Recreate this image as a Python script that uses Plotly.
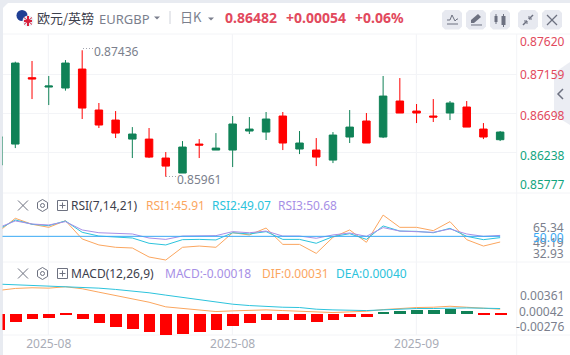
import plotly.graph_objects as go

W, H = 570, 355

# ---- data ----
sessions = list(range(0, 31))
opens = [0.86097, 0.86342, 0.87116, 0.87007, 0.86996, 0.87217, 0.86739, 0.86622, 0.86400, 0.86400, 0.86179,
         0.86004, 0.86342, 0.86272, 0.86272, 0.86494, 0.86482, 0.86669, 0.86284, 0.86272, 0.86155,
         0.86424, 0.86611, 0.86424, 0.86844, 0.86727, 0.86669, 0.86704, 0.86774, 0.86517, 0.86393]
highs = [0.86428, 0.87303, 0.87311, 0.87136, 0.87322, 0.87436, 0.86821, 0.86727, 0.86540, 0.86529, 0.86249,
         0.86377, 0.86400, 0.86470, 0.86669, 0.86657, 0.86716, 0.86716, 0.86494, 0.86412, 0.86482,
         0.86739, 0.86704, 0.87136, 0.87112, 0.86809, 0.86867, 0.86844, 0.86844, 0.86587, 0.86494]
lows = [0.86097, 0.86295, 0.86867, 0.86797, 0.86965, 0.86634, 0.86529, 0.86412, 0.86179, 0.86179, 0.85961,
        0.86004, 0.86179, 0.86272, 0.86074, 0.86459, 0.86389, 0.86272, 0.86225, 0.86085, 0.86120,
        0.86354, 0.86354, 0.86412, 0.86704, 0.86587, 0.86599, 0.86622, 0.86540, 0.86400, 0.86377]
closes = [0.86428, 0.87287, 0.87101, 0.87019, 0.87287, 0.86762, 0.86564, 0.86470, 0.86459, 0.86190, 0.86085,
          0.86307, 0.86330, 0.86295, 0.86576, 0.86517, 0.86634, 0.86354, 0.86354, 0.86190, 0.86447,
          0.86540, 0.86354, 0.86902, 0.86704, 0.86704, 0.86657, 0.86821, 0.86540, 0.86424, 0.86482]

rsi1 = [53.4, 63.0, 58.7, 56.5, 61.3, 48.1, 43.8, 42.1, 41.6, 35.1, 32.93, 42.1, 43.0, 42.1, 52.6, 51.0,
        56.0, 44.2, 44.2, 37.7, 49.3, 54.6, 45.7, 65.34, 56.5, 56.5, 54.1, 60.6, 47.6, 43.0, 45.91]
rsi2 = [55.0, 61.8, 58.7, 57.7, 61.1, 52.9, 50.2, 49.3, 48.8, 45.0, 43.8, 47.6, 47.8, 47.4, 52.6, 51.7,
        53.4, 47.8, 47.8, 45.0, 49.8, 51.9, 47.8, 57.5, 53.8, 53.6, 52.6, 55.8, 50.0, 47.6, 49.07]
rsi3 = [56.3, 61.1, 58.9, 58.2, 60.6, 54.6, 52.6, 51.9, 51.7, 48.8, 47.8, 50.2, 50.5, 50.5, 53.4, 52.6,
        53.8, 50.2, 50.2, 48.6, 51.0, 52.4, 50.0, 56.3, 53.8, 53.6, 52.9, 55.3, 51.7, 50.0, 50.68]
rsi_mid = [50.0] * 31

dea = [0.00361, 0.00352, 0.00344, 0.00335, 0.00330, 0.00322, 0.00308, 0.00291, 0.00273, 0.00247, 0.00216,
       0.00185, 0.00150, 0.00119, 0.00097, 0.00079, 0.00066, 0.00057, 0.00053, 0.00031, 0.00022,
       0.00018, 0.00013, 0.00022, 0.00035, 0.00040, 0.00040, 0.00048, 0.00048, 0.00044, 0.00040]
dif = [0.00278, 0.00304, 0.00313, 0.00308, 0.00326, 0.00300, 0.00255, 0.00211, 0.00172, 0.00123, 0.00062,
       0.00040, 0.00022, 0.00000, 0.00009, 0.00013, 0.00022, 0.00013, 0.00004, -0.00013, -0.00013,
       -0.00004, 0.00004, 0.00026, 0.00044, 0.00053, 0.00057, 0.00070, 0.00057, 0.00044, 0.00031]
macd = [-0.00211, -0.00106, -0.00066, -0.00053, -0.00009, -0.00066, -0.00119, -0.00172, -0.00198, -0.00238,
        -0.00276, -0.00264, -0.00238, -0.00211, -0.00159, -0.00119, -0.00079, -0.00079, -0.00079, -0.00106,
        -0.00079, -0.00040, -0.00040, 0.00026, 0.00040, 0.00048, 0.00053, 0.00062, 0.00040, -0.00009, -0.00018]

x_ticks = [3, 14, 25]
x_tick_labels = ["2025-08", "2025-08", "2025-09"]
price_ticks = [0.87620, 0.87159, 0.86698, 0.86238, 0.85777]

# ---- style ----
UP, DOWN = "#108257", "#ff0000"
RED_TXT, GREEN_TXT = "#e2495d", "#12a57f"
ORANGE, CYAN, PURPLE, BLUE = "#fba65f", "#2cc3dc", "#a78fe6", "#39a9f4"
GRID = "#f3f4f7"
GREY = "#7b7f8d"
ICON = "#6d7180"
FONT = "Noto Sans, Noto Sans CJK SC, sans-serif"


def px(x):
    return x / W


def py(y):
    return (H - y) / H


fig = go.Figure()
fig.add_trace(go.Candlestick(
    x=sessions, open=opens, high=highs, low=lows, close=closes, xaxis="x", yaxis="y",
    increasing=dict(line=dict(color=UP, width=1), fillcolor=UP),
    decreasing=dict(line=dict(color=DOWN, width=1), fillcolor=DOWN),
    whiskerwidth=0, showlegend=False))

for vals, col in ((rsi1, ORANGE), (rsi2, CYAN), (rsi3, PURPLE), (rsi_mid, BLUE)):
    fig.add_trace(go.Scatter(x=sessions, y=vals, mode="lines", xaxis="x2", yaxis="y2",
                             line=dict(color=col, width=1), showlegend=False))

fig.add_trace(go.Bar(x=sessions, y=macd, xaxis="x3", yaxis="y3", width=0.7,
                     marker=dict(color=[UP if v > 0 else DOWN for v in macd], line=dict(width=0)),
                     showlegend=False))
fig.add_trace(go.Scatter(x=sessions, y=dif, mode="lines", xaxis="x3", yaxis="y4",
                         line=dict(color=ORANGE, width=1), showlegend=False))
fig.add_trace(go.Scatter(x=sessions, y=dea, mode="lines", xaxis="x3", yaxis="y4",
                         line=dict(color=CYAN, width=1), showlegend=False))

xdom = [px(2.5), px(516.7)]
xrange_ = [0.2344, 30.99]
xcommon = dict(domain=xdom, range=xrange_, tickmode="array", tickvals=x_ticks, showgrid=True,
               gridcolor=GRID, gridwidth=1, zeroline=False, showline=False, ticks="")
fig.update_layout(
    width=W, height=H, margin=dict(l=0, r=0, t=0, b=0, autoexpand=False),
    paper_bgcolor="white", plot_bgcolor="white", boxgap=0.36, bargap=0,
    font=dict(family=FONT, size=12, color=GREY),
    xaxis=dict(anchor="y", showticklabels=False, rangeslider=dict(visible=False), **xcommon),
    xaxis2=dict(anchor="y2", showticklabels=False, **xcommon),
    xaxis3=dict(anchor="y3", ticktext=x_tick_labels, showticklabels=True,
                tickfont=dict(size=12, color="#a9acb6", family=FONT), ticklabelstandoff=0, **xcommon),
    yaxis=dict(domain=[py(192.5), py(34.5)], range=[price_ticks[-1], price_ticks[0]],
               tickmode="array", tickvals=price_ticks[1:-1], showticklabels=False,
               showgrid=True, gridcolor=GRID, zeroline=False, ticks=""),
    yaxis2=dict(domain=[py(262), py(193)], range=[31.5, 81.25], showticklabels=False,
                showgrid=False, zeroline=False, ticks=""),
    yaxis3=dict(domain=[py(335), py(262)], range=[-0.002775, 0.00683], showticklabels=False,
                showgrid=False, zeroline=False, ticks=""),
    yaxis4=dict(domain=[py(335), py(262)], range=[-0.003084, 0.00652], overlaying="y3",
                showticklabels=False, showgrid=False, zeroline=False, ticks=""),
)

annotations = []


def text(x, y, s, color=GREY, size=12, anchor="left", weight=None, family=FONT):
    if weight:
        s = f"<b>{s}</b>"
    annotations.append(dict(xref="paper", yref="paper", x=px(x), y=py(y), text=s, showarrow=False,
                            xanchor=anchor, yanchor="middle", borderpad=0, borderwidth=0,
                            font=dict(size=size, color=color, family=family)))


# header
text(37, 17, "欧元/英镑", "#3d404d", 13, family="Noto Sans CJK SC")
text(99, 19, "EURGBP", GREY, 13)
text(180, 16, "日K", GREY, 13, family="Noto Sans CJK SC")
text(225, 17, "0.86482", RED_TXT, 14, weight=True)
text(286, 17, "+0.00054", RED_TXT, 14, weight=True)
text(355, 17, "+0.06%", RED_TXT, 14, weight=True)
# price axis labels
label_rows = [42, 74.5, 115, 155.5, 184]
label_cols = [RED_TXT, RED_TXT, RED_TXT, GREEN_TXT, GREEN_TXT]
for v, row, col in zip(price_ticks, label_rows, label_cols):
    text(565, row, f"{v:.5f}", col, 12, anchor="right")
# extremes
text(94, 51.5, f"{max(highs):.5f}", GREY, 12)
text(177, 179.5, f"{min(lows):.5f}", GREY, 12)
# indicator legends
text(71, 205.5, "RSI(7,14,21)", "#3d404d", 12)
text(146, 205.5, f"RSI1:{rsi1[-1]:.2f}", ORANGE, 12)
text(212, 205.5, f"RSI2:{rsi2[-1]:.2f}", CYAN, 12)
text(278, 205.5, f"RSI3:{rsi3[-1]:.2f}", PURPLE, 12)
text(71, 273.5, "MACD(12,26,9)", "#3d404d", 12)
text(165, 273.5, f"MACD:{macd[-1]:.5f}", PURPLE, 12)
text(262, 273.5, f"DIF:{dif[-1]:.5f}", ORANGE, 12)
text(336, 273.5, f"DEA:{dea[-1]:.5f}", CYAN, 12)
# indicator axis labels
text(564, 227, f"{max(rsi1):.2f}", GREY, 12, anchor="right")
text(564, 242, "49.19", GREY, 12, anchor="right")
text(564, 254, f"{min(rsi1):.2f}", GREY, 12, anchor="right")
text(564, 237, "50.00", BLUE, 12, anchor="right")
text(564, 295.5, f"{max(dea):.5f}", GREY, 12, anchor="right")
text(564, 311, "0.00042", GREY, 12, anchor="right")
text(564, 326, f"{min(macd):.5f}", GREY, 12, anchor="right")
fig.update_layout(annotations=annotations)

shapes = []


def line(x0, y0, x1, y1, color=GRID, width=1, layer="below"):
    shapes.append(dict(type="line", xref="paper", yref="paper", x0=px(x0), y0=py(y0), x1=px(x1), y1=py(y1),
                       line=dict(color=color, width=width), layer=layer))


def path(points, fill=None, color=None, width=1, closed=False, layer="above"):
    d = "M" + " L".join(f"{px(a):.5f},{py(b):.5f}" for a, b in points) + (" Z" if closed else "")
    shapes.append(dict(type="path", xref="paper", yref="paper", path=d, fillcolor=fill or "rgba(0,0,0,0)",
                       line=dict(color=color or "rgba(0,0,0,0)", width=width), layer=layer))


def circle(cx, cy, r, fill, layer="above"):
    shapes.append(dict(type="circle", xref="paper", yref="paper", x0=px(cx - r), x1=px(cx + r),
                       y0=py(cy + r), y1=py(cy - r), fillcolor=fill, line=dict(width=0), layer=layer))


def round_rect(x0, y0, x1, y1, r, fill):
    pts = [(x0 + r, y0), (x1 - r, y0), (x1, y0 + r), (x1, y1 - r), (x1 - r, y1), (x0 + r, y1), (x0, y1 - r), (x0, y0 + r)]
    path(pts, fill=fill, closed=True, layer="below")


# frame and pane separators
path([(0, 0), (570, 0), (570, 3), (8, 3), (3, 8), (3, 355), (0, 355)], fill="#e8ebf1", closed=True, layer="below")
for yy in (34, 193, 262, 335):
    line(3, yy, 570, yy)
line(516.7, 34, 516.7, 355)
for xx in (48.3, 232.3, 416.3):
    line(xx, 34, xx, 335)

# flags
circle(22, 15.5, 5.5, "#1f3f94")
circle(28, 21, 5.5, "#e8edf5")
path([(24, 21), (32, 21)], color="#d8213b", width=2)
path([(28, 16), (28, 26)], color="#d8213b", width=2)
path([(24, 17.5), (32, 24.5)], color="#d8213b", width=1)
path([(32, 17.5), (24, 24.5)], color="#d8213b", width=1)

# carets
for xc, yc in ((157, 18), (211, 19)):
    path([(xc - 3, yc - 1.5), (xc + 3, yc - 1.5), (xc, yc + 1.5)], fill="#7b7f8d", closed=True)
line(170, 11, 170, 24, "#cfd2da", 1, "above")

# toolbar
for x0 in (442, 466, 490, 518, 542):
    round_rect(x0, 10, x0 + 20, 29.5, 3, "#e7e9f0")
path([(447, 20), (450, 20), (452, 15), (455, 21), (457, 19), (458, 19)], color=ICON, width=1)
path([(447, 24), (458, 24)], color=ICON, width=1)
path([(471, 23), (471, 20), (478, 14), (481, 17), (474, 23)], fill=ICON, closed=True)
path([(471, 25), (482, 25)], color=ICON, width=1)
path([(496, 16), (496, 22)], fill=ICON, color=ICON, width=3)
path([(503.5, 16), (503.5, 25)], fill=ICON, color=ICON, width=4)
path([(496, 14), (496, 24)], color=ICON, width=1)
path([(503.5, 14), (503.5, 27)], color=ICON, width=1)
path([(523, 25), (527, 21)], color=ICON, width=1.5)
path([(527, 24), (527, 21), (524, 21)], color=ICON, width=1)
path([(533, 15), (529, 19)], color=ICON, width=1.5)
path([(529, 16), (529, 19), (532, 19)], color=ICON, width=1)
path([(547, 15), (557, 25)], color=ICON, width=1.2)
path([(557, 15), (547, 25)], color=ICON, width=1.2)

# side tab
path([(570, 62), (554, 73), (554, 115), (570, 125)], fill="rgba(230,232,240,0.8)", closed=True)
path([(563, 89), (558, 94), (563, 99)], color=ICON, width=1.5)

# indicator controls
for yy in (205.5, 273.5):
    path([(18, yy - 5), (28, yy + 5)], color=ICON, width=1)
    path([(28, yy - 5), (18, yy + 5)], color=ICON, width=1)
    path([(42.5, yy - 6), (47.5, yy - 3), (47.5, yy + 3), (42.5, yy + 6), (37.5, yy + 3), (37.5, yy - 3)],
         color=ICON, width=1, closed=True)
    shapes.append(dict(type="circle", xref="paper", yref="paper", x0=px(40.5), x1=px(44.5), y0=py(yy + 2),
                       y1=py(yy - 2), line=dict(color=ICON, width=1)))
    path([(57.5, yy - 5), (67.5, yy - 5), (67.5, yy + 5), (57.5, yy + 5)], color=ICON, width=1, closed=True)
    path([(59.5, yy), (65.5, yy)], color=ICON, width=1)
    path([(62.5, yy - 3), (62.5, yy + 3)], color=ICON, width=1)

# dotted leaders to the extreme labels
path([(83, 48.5), (93, 48.5)], color="#a0a3ae", width=1)
path([(166, 176.5), (176, 176.5)], color="#a0a3ae", width=1)
for s in shapes[-2:]:
    s["line"]["dash"] = "1px,2px"

fig.update_layout(shapes=shapes)

fig.write_html("out.html", config={"displayModeBar": False},
               post_script="document.body.style.margin='0';document.body.style.overflow='hidden';")
